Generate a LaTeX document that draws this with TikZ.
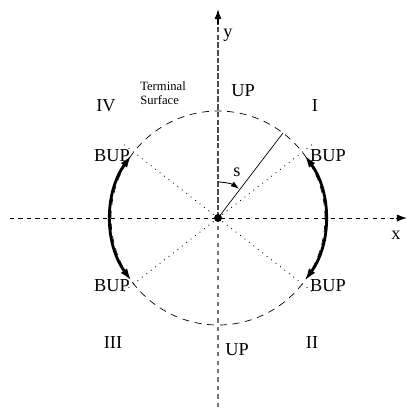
\documentclass[tikz,border=0pt]{standalone}
\usepackage{fontspec}
\setmainfont{Liberation Serif}
\usetikzlibrary{arrows.meta}

\tikzset{
  lbl/.style={font=\fontsize{13}{15}\selectfont, inner sep=0pt},
  small lbl/.style={font=\fontsize{9}{10}\selectfont, inner sep=0pt, align=left},
  axis tip/.style={-{Latex[length=7pt,width=5pt]}},
  swing/.style={line width=2pt, {Latex[length=9pt,width=5.5pt]}-{Latex[length=9pt,width=5.5pt]}}
}

\begin{document}
\begin{tikzpicture}[line cap=butt,line join=round]
  \def\R{2.675}
  \def\Rd{3.05}
  \useasboundingbox (-5.45,-4.725) rectangle (4.75,5.45);
  % axes
  \draw[line width=0.6pt,dash pattern=on 3pt off 3pt] (-5.2,0) -- (4.45,0);
  \draw[line width=0.6pt,axis tip] (4.45,0) -- (4.72,0);
  \draw[line width=1.1pt,gray!90!black,dash pattern=on 3pt off 3pt] (0,-4.725) -- (0,0);
  \draw[line width=1.1pt,gray!60!black,dash pattern=on 4pt off 1.5pt] (0,0) -- (0,4.9);
  \draw[line width=0.8pt,axis tip] (0,4.85) -- (0,5.22);
  % terminal surface
  \draw[line width=0.5pt,dash pattern=on 5pt off 4pt] (0,0) circle (\R);
  \foreach \a in {38,142,218,322} {
    \draw[line width=0.6pt,dash pattern=on 0.6pt off 3.4pt] (0,0) -- (\a:\Rd);
  }
  % thick arcs
  \draw[swing] (-36:\R) arc (-36:36:\R);
  \draw[swing] (144:\R) arc (144:216:\R);
  % s
  \draw[line width=0.5pt] (0,0) -- (52.6:\R);
  \draw[line width=0.6pt,-{Latex[length=6pt,width=4pt]}] (90:0.9) arc (90:54:0.9);
  \fill (0,0) circle (0.1);
  \node[lbl] (s) at (0.475,1.15) {s};
  % labels
  \node[lbl] (ylab) at (0.25,4.575) {y};
  \node[lbl] (xlab) at (4.45,-0.425) {x};
  \node[lbl] (uptop) at (0.625,3.175) {UP};
  \node[lbl] (upbot) at (0.475,-3.3) {UP};
  \node[lbl] (q1) at (2.425,2.8) {I};
  \node[lbl] (q2) at (2.35,-3.125) {II};
  \node[lbl] (q3) at (-2.625,-3.125) {III};
  \node[lbl] (q4) at (-2.8,2.8) {IV};
  \node[small lbl] (term) at (-1.375,3.125) {Terminal\\Surface};
  \node[lbl] (bupul) at (-2.65,1.55) {BUP};
  \node[lbl] (bupur) at (2.75,1.55) {BUP};
  \node[lbl] (bupll) at (-2.65,-1.7) {BUP};
  \node[lbl] (buplr) at (2.75,-1.7) {BUP};
\end{tikzpicture}
\end{document}
